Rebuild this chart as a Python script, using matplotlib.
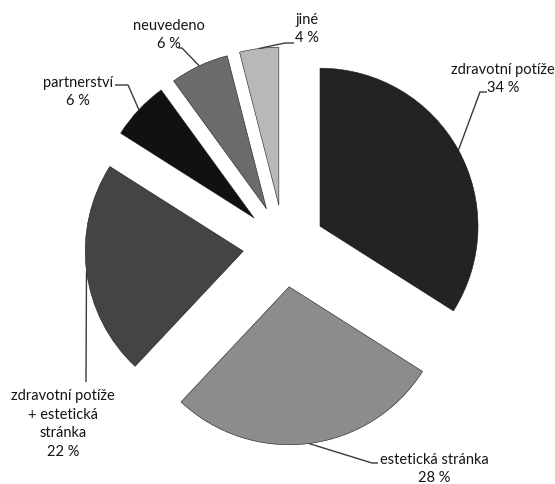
import numpy as np
import matplotlib
matplotlib.use("Agg")
import matplotlib.pyplot as plt

categories = ["zdravotní potíže", "estetická stránka", "zdravotní potíže\n+ estetická\nstránka",
              "partnerství", "neuvedeno", "jiné"]
values = [34, 28, 22, 6, 6, 4]
colors = ["#232323", "#8c8c8c", "#444444", "#111111", "#6b6b6b", "#b8b8b8"]

W, H = 555, 485
CX, CY, R = 284, 247, 158  # pixel geometry of pie
EXPLODE = 0.26

def px(x, y):
    return (x - CX) / R, (CY - y) / R

plt.rcParams['font.family'] = ['Lato', 'DejaVu Sans']
fig = plt.figure(figsize=(W / 100, H / 100), dpi=100)
ax = fig.add_axes([0, 0, 1, 1])

wedges, _ = ax.pie(values, colors=colors, startangle=90, counterclock=False,
                   explode=[EXPLODE] * len(values), radius=1.0,
                   wedgeprops=dict(linewidth=0.4, edgecolor="#1a1a1a"))
ax.set_xlim(-CX / R, (W - CX) / R)
ax.set_ylim(-(H - CY) / R, CY / R)
ax.set_aspect('auto')
ax.axis('off')

# label text centers and leader elbows (pixels)
label_pos = [(503, 79), (434, 469), (63, 424), (78, 92), (169, 35), (307, 29)]
elbows = [[(480, 93), (487, 93)],
          [(372, 464), (378, 464)],
          [(86, 383)],
          [(128, 86), (115, 86)],
          [(182, 49), (178, 49)],
          [(285, 44), (294, 44)]]

for w, cat, v, lp, el in zip(wedges, categories, values, label_pos, elbows):
    mid = np.deg2rad((w.theta1 + w.theta2) / 2)
    cx, cy = w.center
    ax_ = cx + np.cos(mid) * w.r
    ay_ = cy + np.sin(mid) * w.r
    pts = [(ax_, ay_)] + [px(*p) for p in el]
    xs, ys = zip(*pts)
    ax.plot(xs, ys, color="#3a3a3a", lw=1.0, solid_capstyle='butt')
    tx, ty = px(*lp)
    ax.text(tx, ty, f"{cat}\n{v} %", ha='center', va='center', fontsize=10.5,
            color="#151515", linespacing=1.45)

fig.savefig("out.png", dpi=100)
